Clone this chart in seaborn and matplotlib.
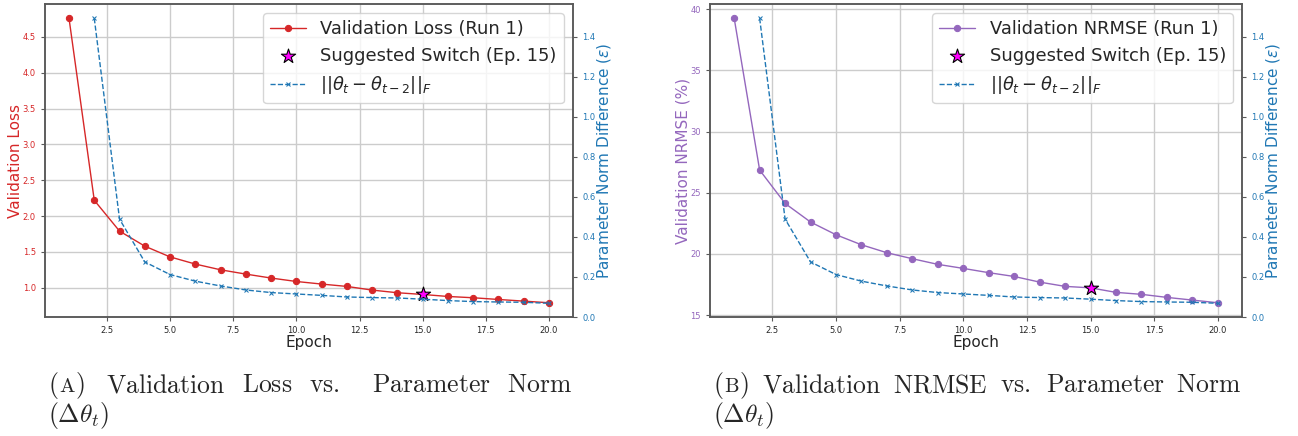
import matplotlib
matplotlib.use("Agg")
import matplotlib.pyplot as plt
import seaborn as sns

# ---- data -------------------------------------------------------------
epochs = list(range(1, 21))
val_loss = [4.76, 2.22, 1.79, 1.58, 1.43, 1.33, 1.25, 1.19, 1.135, 1.087,
            1.051, 1.018, 0.967, 0.930, 0.906, 0.878, 0.860, 0.836, 0.813, 0.790]
val_nrmse = [39.26, 26.85, 24.12, 22.60, 21.56, 20.74, 20.09, 19.60, 19.14, 18.81,
             18.46, 18.15, 17.69, 17.34, 17.22, 16.85, 16.69, 16.44, 16.22, 16.00]
norm_epochs = list(range(2, 21))
param_norm = [1.492, 0.489, 0.275, 0.212, 0.179, 0.155, 0.135, 0.122, 0.115, 0.108,
              0.100, 0.097, 0.095, 0.089, 0.082, 0.077, 0.075, 0.0735, 0.0685]
switch_epoch = 15

panels = [
    dict(values=val_loss, color="#d62728", ylabel="Validation Loss",
         label="Validation Loss (Run 1)", tag="A",
         words=["Validation", "Loss", "vs.", "Parameter", "Norm"],
         gaps=[1.3, 1.0, 1.0, 1.9, 1.0]),
    dict(values=val_nrmse, color="#9467bd", ylabel="Validation NRMSE (%)",
         label="Validation NRMSE (Run 1)", tag="B",
         words=["Validation", "NRMSE", "vs.", "Parameter", "Norm"],
         gaps=[1.2, 1.0, 1.0, 1.3, 1.0]),
]
norm_color = "#1f77b4"

# ---- style ------------------------------------------------------------
sns.set_style("ticks")
plt.rcParams["font.family"] = ["DejaVu Sans"]
plt.rcParams["mathtext.fontset"] = "dejavusans"

W, H = 1298, 436
fig = plt.figure(figsize=(W / 100, H / 100), dpi=100)
ax_boxes = [(45, 4, 573, 317), (710, 4, 1242, 317)]


def style_spines(a):
    for s in a.spines.values():
        s.set_color("0.35")
        s.set_linewidth(1.1)


for p, (x0, y0, x1, y1) in zip(panels, ax_boxes):
    ax = fig.add_axes([x0 / W, 1 - y1 / H, (x1 - x0) / W, (y1 - y0) / H])
    sns.lineplot(x=epochs, y=p["values"], ax=ax, color=p["color"], marker="o",
                 markersize=4.5, markeredgecolor=p["color"], linewidth=1.0,
                 label=p["label"], legend=False)
    sw_val = p["values"][epochs.index(switch_epoch)]
    sns.scatterplot(x=[switch_epoch], y=[sw_val], ax=ax, marker="*", s=115,
                    color="#ff00ff", edgecolor="black", linewidth=0.8, zorder=5,
                    label=f"Suggested Switch (Ep. {switch_epoch})", legend=False)
    ax.grid(True, color="0.8", linewidth=1.0)
    ax.set_xlabel("Epoch", fontsize=11, labelpad=0)
    ax.set_ylabel(p["ylabel"], color=p["color"], fontsize=11, labelpad=0)
    ax.tick_params(axis="y", labelcolor=p["color"], labelsize=6, length=3, color="0.35")
    ax.tick_params(axis="x", labelsize=6, length=3, color="0.35")
    style_spines(ax)

    ax2 = ax.twinx()
    sns.lineplot(x=norm_epochs, y=param_norm, ax=ax2, color=norm_color, marker="x",
                 markersize=3.5, markeredgecolor=norm_color, linestyle="--",
                 linewidth=1.0, label=r"$||\theta_t - \theta_{t-2}||_F$", legend=False)
    ax2.set_ylim(bottom=0)
    ax2.set_ylabel(r"Parameter Norm Difference ($\varepsilon$)", color=norm_color,
                   fontsize=11, labelpad=0)
    ax2.tick_params(axis="y", labelcolor=norm_color, labelsize=6, length=3, color="0.35")
    style_spines(ax2)

    h1, l1 = ax.get_legend_handles_labels()
    h2, l2 = ax2.get_legend_handles_labels()
    ax2.legend(h1 + h2, l1 + l2, loc="upper right", fontsize=12.9, framealpha=0.8)

# ---- justified captions beneath each panel ------------------------------
cap_size = 18.5
renderer = fig.canvas.get_renderer()


def width_of(t):
    return t.get_window_extent(renderer).width


for p, (x0, y0, x1, y1) in zip(panels, ax_boxes):
    base1 = 392
    base2 = 422
    left, right = x0 + 3, x1 - 1
    kw = dict(va="baseline", ha="left", fontsize=cap_size, transform=None,
              math_fontfamily="cm")
    # "(X)" with a small-caps letter
    t_open = fig.text(0, 0, r"$\mathrm{(}$", **kw)
    t_tag = fig.text(0, 0, r"$\mathrm{%s}$" % p["tag"], va="baseline", ha="left",
                     fontsize=cap_size * 0.8, transform=None, math_fontfamily="cm")
    t_close = fig.text(0, 0, r"$\mathrm{)}$", **kw)
    word_txt = [fig.text(0, 0, r"$\mathrm{%s}$" % w, **kw) for w in p["words"]]
    fig.canvas.draw()
    wo, wt, wc = width_of(t_open), width_of(t_tag), width_of(t_close)
    ww = [width_of(t) for t in word_txt]
    free = (right - left) - (wo + wt + wc) - sum(ww)
    g = free / sum(p["gaps"])
    yb = H - base1
    x = left
    t_open.set_position((x, yb)); x += wo
    t_tag.set_position((x, yb)); x += wt
    t_close.set_position((x, yb)); x += wc
    for gap, t, w in zip(p["gaps"], word_txt, ww):
        x += gap * g
        t.set_position((x, yb))
        x += w
    fig.text(left / W, 1 - base2 / H, r"$(\Delta\theta_t)$", fontsize=cap_size,
             va="baseline", ha="left", math_fontfamily="cm")

fig.savefig("out.png", dpi=100)
